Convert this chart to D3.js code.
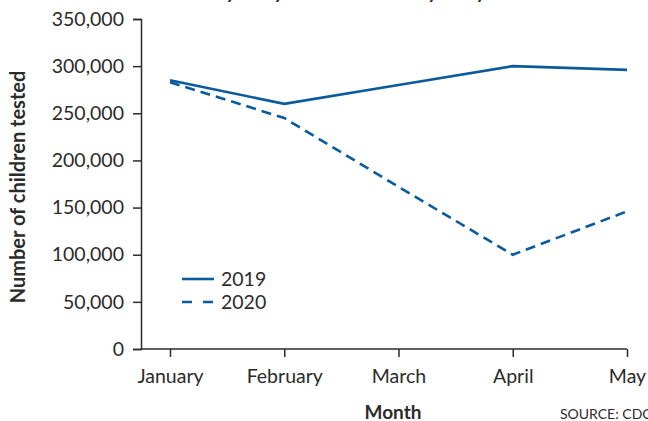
<!DOCTYPE html>
<html>
<head>
<meta charset="utf-8">
<script src="https://cdn.jsdelivr.net/npm/d3@7"></script>
<style>
  html, body { margin: 0; padding: 0; background: #fff; overflow: hidden; }
  svg { display: block; font-family: Lato, "Open Sans", sans-serif; }
</style>
</head>
<body>
<div class="main"></div>
<script>
// Données
const months = ["January", "February", "March", "April", "May"];
const tested2019 = [285000, 260000, 280000, 300000, 296000];
const tested2020 = [283000, 245000, 172000, 100000, 146000];
const yTicks = [0, 50000, 100000, 150000, 200000, 250000, 300000, 350000];

const W = 648, H = 421;
const margin = { top: 19, right: 21, bottom: 72, left: 141 };
const blue = "#0a5a9c";
const ink = "#2b2b2b";

const svg = d3.select(".main")
  .append("svg")
    .attr("width", W)
    .attr("height", H);

// Titre (coupé en haut de l'image)
svg.append("text")
  .attr("x", 352)
  .attr("y", -1)
  .attr("text-anchor", "middle")
  .style("font-size", "19px")
  .style("font-weight", "bold")
  .attr("fill", ink)
  .text("January–May 2019 and January–May 2020");

// Axe x : mois
const x = d3.scalePoint()
  .domain(months)
  .range([170, W - margin.right]);

// Axe y : nombre d'enfants testés
const y = d3.scaleLinear()
  .domain([0, 350000])
  .range([H - margin.bottom, margin.top]);

const yAxis = svg.append("g")
  .attr("transform", "translate(" + margin.left + ",0)")
  .call(d3.axisLeft(y).tickValues(yTicks).tickFormat(d3.format(",")).tickSize(8).tickSizeOuter(8).tickPadding(9));

const xAxis = svg.append("g")
  .attr("transform", "translate(0," + y(0) + ")")
  .call(d3.axisBottom(x).tickSize(8).tickSizeOuter(0).tickPadding(12));

// prolonger la ligne de l'axe x jusqu'à l'axe y
xAxis.select(".domain").attr("d", "M" + margin.left + ",0H" + x("May"));

[yAxis, xAxis].forEach(function (g) {
  g.selectAll("path, line").attr("stroke", ink).attr("stroke-width", 1.5);
  g.selectAll("text").attr("fill", ink).style("font-size", "19.5px").style("font-family", "Lato, sans-serif");
});

// Courbes
const valueline = d3.line()
  .x(function (d, i) { return x(months[i]); })
  .y(function (d) { return y(d); });

svg.append("path")
  .datum(tested2019)
  .attr("fill", "none")
  .attr("stroke", blue)
  .attr("stroke-width", 2.6)
  .attr("d", valueline);

svg.append("path")
  .datum(tested2020)
  .attr("fill", "none")
  .attr("stroke", blue)
  .attr("stroke-width", 2.6)
  .attr("stroke-dasharray", "10,6")
  .attr("d", valueline);

// Légende
const legend = [
  { label: "2019", dash: null },
  { label: "2020", dash: "10,11" }
];
const lg = svg.append("g").attr("transform", "translate(182,279)");
legend.forEach(function (d, i) {
  lg.append("line")
    .attr("x1", 0).attr("x2", 32)
    .attr("y1", i * 23).attr("y2", i * 23)
    .attr("stroke", blue)
    .attr("stroke-width", 2.6)
    .attr("stroke-dasharray", d.dash);
  lg.append("text")
    .attr("x", 39)
    .attr("y", i * 23)
    .attr("dy", "0.36em")
    .attr("fill", ink)
    .style("font-size", "19.5px")
    .text(d.label);
});

// Titres des axes
svg.append("text")
  .attr("x", 393)
  .attr("y", 419)
  .attr("text-anchor", "middle")
  .attr("fill", ink)
  .style("font-size", "19px")
  .style("font-weight", "bold")
  .text("Month");

svg.append("text")
  .attr("transform", "translate(25,187) rotate(-90)")
  .attr("text-anchor", "middle")
  .attr("fill", ink)
  .style("font-size", "20px")
  .style("font-weight", "bold")
  .text("Number of children tested");

svg.append("text")
  .attr("x", 560)
  .attr("y", 419)
  .attr("fill", ink)
  .style("font-size", "14px")
  .text("SOURCE: CDC");
</script>
</body>
</html>
